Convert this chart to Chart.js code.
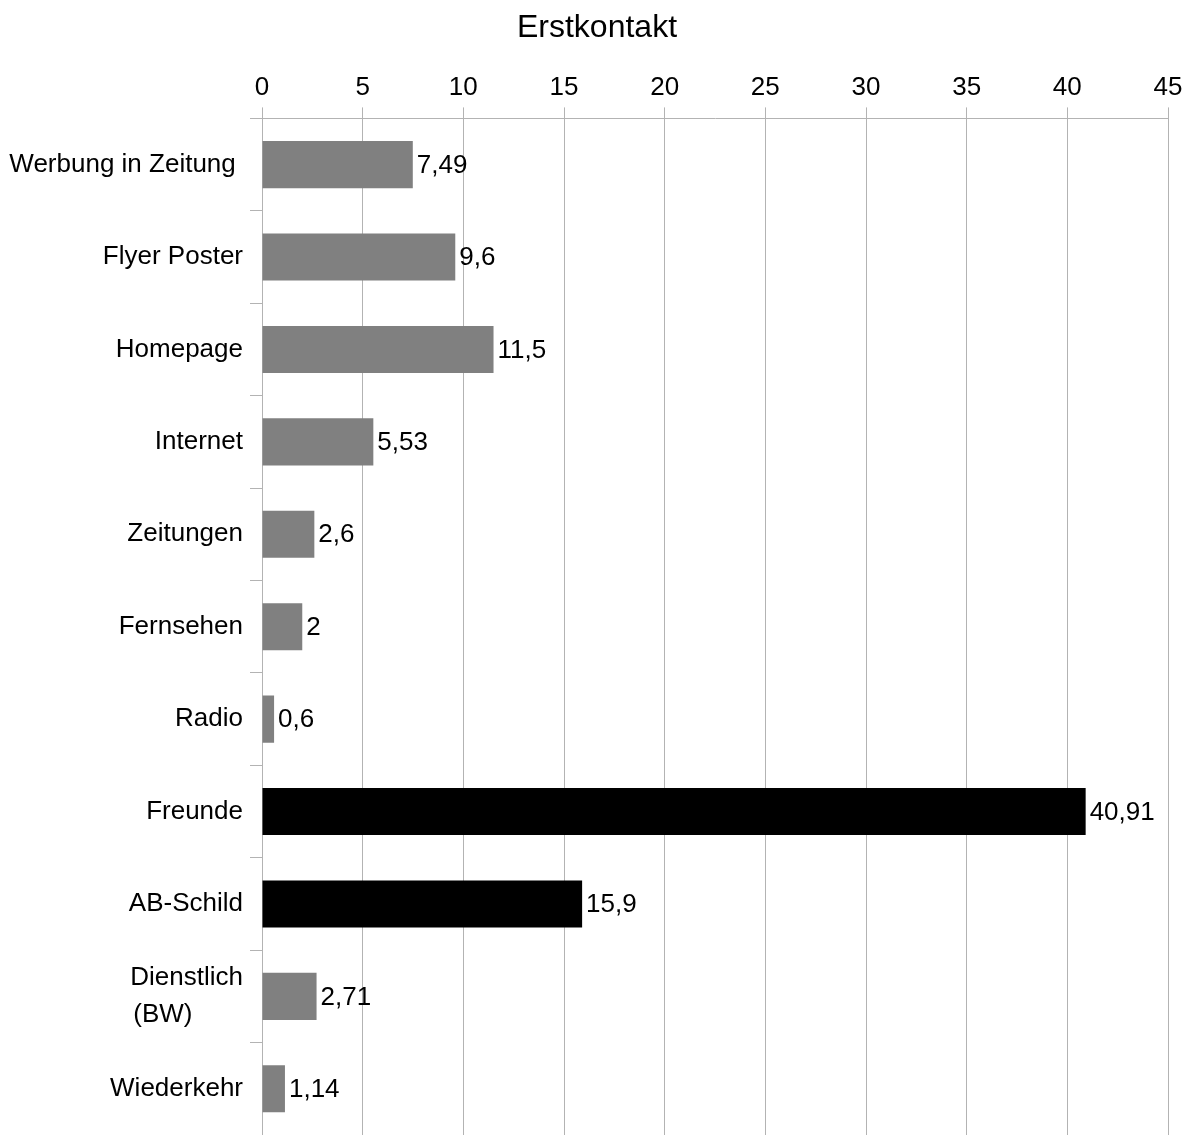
<!DOCTYPE html>
<html>
<head>
<meta charset="utf-8">
<script src="https://cdn.jsdelivr.net/npm/chart.js@4"></script>
<style>
  html, body { margin: 0; padding: 0; background: #fff; }
  #wrap { width: 1194px; height: 1135px; }
</style>
</head>
<body>
<div id="wrap"><canvas id="chart"></canvas></div>
<script>
const categories = [
  "Werbung in Zeitung ",
  "Flyer Poster",
  "Homepage",
  "Internet",
  "Zeitungen",
  "Fernsehen",
  "Radio",
  "Freunde",
  "AB-Schild",
  ["Dienstlich", "(BW)\u00a0\u00a0\u00a0\u00a0\u00a0\u00a0\u00a0"],
  "Wiederkehr"
];
const values = [7.49, 9.6, 11.5, 5.53, 2.6, 2, 0.6, 40.91, 15.9, 2.71, 1.14];
const valueLabels = ["7,49", "9,6", "11,5", "5,53", "2,6", "2", "0,6", "40,91", "15,9", "2,71", "1,14"];
const barColors = ["#808080", "#808080", "#808080", "#808080", "#808080", "#808080", "#808080",
  "#000000", "#000000", "#808080", "#808080"];
const xTicks = [0, 5, 10, 15, 20, 25, 30, 35, 40, 45];

const FONT = "'Liberation Sans', Arial, sans-serif";

// Werte rechts neben den Balken
const valueLabelPlugin = {
  id: "valueLabels",
  afterDatasetsDraw(chart) {
    const ctx = chart.ctx;
    const meta = chart.getDatasetMeta(0);
    ctx.save();
    ctx.font = "26px " + FONT;
    ctx.fillStyle = "#000";
    ctx.textAlign = "left";
    ctx.textBaseline = "middle";
    meta.data.forEach((bar, i) => {
      ctx.fillText(valueLabels[i], bar.x + 4, bar.y + 1);
    });
    ctx.restore();
  }
};

const ctx = document.getElementById("chart").getContext("2d");
new Chart(ctx, {
  type: "bar",
  data: {
    labels: categories,
    datasets: [{
      data: values,
      backgroundColor: barColors,
      barPercentage: 0.51,
      categoryPercentage: 1.0
    }]
  },
  options: {
    indexAxis: "y",
    responsive: true,
    maintainAspectRatio: false,
    animation: false,
    layout: { padding: 0 },
    plugins: {
      legend: { display: false },
      tooltip: { enabled: false },
      title: {
        display: true,
        text: "Erstkontakt",
        color: "#000",
        font: { family: FONT, size: 32, weight: "normal" },
        padding: { top: 9, bottom: 6 }
      }
    },
    scales: {
      x: {
        position: "top",
        min: 0,
        max: 45,
        afterBuildTicks: (s) => { s.ticks = xTicks.map(v => ({ value: v })); },
        afterFit: (s) => {
          s.height = 65;
          s.paddingRight = 26;
        },
        ticks: {
          color: "#000",
          font: { family: FONT, size: 26 },
          padding: 4,
          maxRotation: 0
        },
        grid: { color: "#b3b3b3", lineWidth: 1, tickLength: 11, drawTicks: true },
        border: { display: true, color: "#b3b3b3" }
      },
      y: {
        afterFit: (s) => {
          s.width = 262;
          s.paddingTop = 0;
          s.paddingBottom = 0;
        },
        ticks: {
          color: "#000",
          font: { family: FONT, size: 26, lineHeight: 1.4 },
          padding: 7,
          autoSkip: false
        },
        grid: { offset: true, drawOnChartArea: false, color: "#b3b3b3", tickLength: 12 },
        border: { display: true, color: "#b3b3b3" }
      }
    }
  },
  plugins: [valueLabelPlugin]
});
</script>
</body>
</html>
